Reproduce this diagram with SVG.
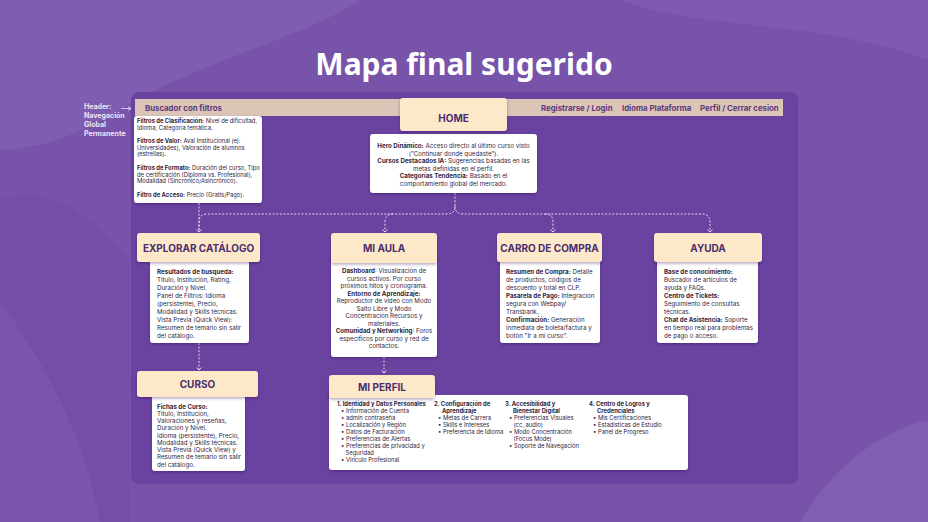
<svg xmlns="http://www.w3.org/2000/svg" width="928" height="522" viewBox="0 0 928 522">
<defs>
<style>
.t{font-family:Inter,"Noto Sans","Liberation Sans",sans-serif;fill:#2f2540;font-size:6.2px}
.s{font-size:5.85px}
.b{font-weight:700}
.c{text-anchor:middle}
.h{font-family:Inter,"Noto Sans","Liberation Sans",sans-serif;font-weight:700;font-size:10px;fill:#4b2d70;text-anchor:middle}
.nav{font-family:Inter,"Noto Sans","Liberation Sans",sans-serif;font-weight:700;font-size:7.8px;fill:#5b3a7e}
.beige{fill:#fde9c9}
.card{fill:#ffffff}
.dash{fill:none;stroke:#efe6fb;stroke-width:0.9;stroke-dasharray:2 1.6}
.ah{fill:none;stroke:#efe6fb;stroke-width:0.9}
</style>
<filter id="sh" x="-20%" y="-20%" width="140%" height="150%">
<feDropShadow dx="0" dy="1.5" stdDeviation="1.5" flood-color="#2a1050" flood-opacity="0.35"/>
</filter>
</defs>
<!-- background -->
<rect width="928" height="522" fill="#7853aa"/>
<path d="M0,0 H360 C300,40 200,60 120,110 C70,140 30,150 0,150 Z" fill="#8262b4" opacity="0.7"/>
<path d="M0,300 C40,360 80,420 100,522 H0 Z" fill="#8565b6" opacity="0.6"/>
<path d="M620,0 C700,30 820,20 928,60 V0 Z" fill="#8464b6" opacity="0.5"/>
<path d="M800,522 C830,470 880,430 928,420 V522 Z" fill="#8565b6" opacity="0.6"/>
<path d="M0,200 C60,180 100,230 130,260 V522 H0 Z" fill="#7046a6" opacity="0.35"/>
<text x="464" y="75" text-anchor="middle" font-family="'Noto Sans','Open Sans',sans-serif" font-weight="700" font-size="30" fill="#ffffff">Mapa final sugerido</text>
<rect x="131" y="92" width="667" height="392" rx="8" fill="#6a43a0"/>

<!-- header -->
<g id="header">
<rect x="135" y="99" width="648" height="17" fill="#dcc4b6"/>
<text class="nav" x="145" y="111">Buscador con filtros</text>
<text class="nav" x="541" y="111">Registrarse  / Login</text>
<text class="nav" x="622" y="111">Idioma Plataforma</text>
<text class="nav" x="700" y="111">Perfil / Cerrar cesion</text>
</g>
<g id="header-label">
<text font-family="Inter,'Noto Sans',sans-serif" font-weight="700" font-size="7" fill="#ece3f7">
<tspan x="84" y="109">Header:</tspan><tspan x="84" y="118">Navegación</tspan><tspan x="84" y="127">Global</tspan><tspan x="84" y="136">Permanente</tspan></text>
<line x1="121" y1="108.5" x2="131" y2="108.5" stroke="#ece3f7" stroke-width="0.8"/>
<polyline points="128,106.5 131,108.5 128,110.5" fill="none" stroke="#ece3f7" stroke-width="0.8"/>
</g>

<g id="filtros">
<rect x="134" y="116" width="128" height="87" rx="3" class="card" filter="url(#sh)"/>
<text class="t s"><tspan x="137" y="123"><tspan class="b">Filtros de Clasificación:</tspan> Nivel de dificultad,</tspan><tspan x="137" y="129.5">Idioma, Categoría temática.</tspan>
<tspan x="137" y="143"><tspan class="b">Filtros de Valor:</tspan> Aval Institucional (ej:</tspan><tspan x="137" y="149.5">Universidades), Valoración de alumnos</tspan><tspan x="137" y="156">(estrellas).</tspan>
<tspan x="137" y="170"><tspan class="b">Filtros de Formato:</tspan> Duración del curso, Tipo</tspan><tspan x="137" y="176.5">de certificación (Diploma vs. Profesional),</tspan><tspan x="137" y="183">Modalidad (Sincrónico/Asincrónico).</tspan>
<tspan x="137" y="196.5"><tspan class="b">Filtro de Acceso:</tspan> Precio (Gratis/Pago).</tspan></text>
</g>

<!-- connectors -->
<g id="connectors">
<path class="dash" d="M455,193 V206 Q455,214 447,214 H207 Q199,214 199,222 V232"/>
<path class="dash" d="M455,206 Q455,214 463,214 H702 Q710,214 710,222 V232"/>
<path class="dash" d="M393,214 Q385,214 385,222 V232"/>
<path class="dash" d="M545,214 Q553,214 553,222 V232"/>
<path class="dash" d="M199,203 V232"/>
<path class="dash" d="M199,343 V370"/>
<path class="dash" d="M384,357 V373"/>
<polyline class="ah" points="196.5,229.5 199,232 201.5,229.5"/>
<polyline class="ah" points="382.5,229.5 385,232 387.5,229.5"/>
<polyline class="ah" points="550.5,229.5 553,232 555.5,229.5"/>
<polyline class="ah" points="707.5,229.5 710,232 712.5,229.5"/>
<polyline class="ah" points="196.5,367.5 199,370 201.5,367.5"/>
<polyline class="ah" points="381.5,370.5 384,373 386.5,370.5"/>
</g>

<g id="home">
<rect x="370" y="134" width="167" height="59" rx="3" class="card" filter="url(#sh)"/>
<rect x="400" y="98" width="107" height="33" rx="3" class="beige" filter="url(#sh)"/>
<text class="h" x="453.5" y="122">HOME</text>
<text class="t c"><tspan x="453.5" y="148"><tspan class="b">Hero Dinámico:</tspan> Acceso directo al último curso visto</tspan><tspan x="453.5" y="155.5">("Continuar donde quedaste").</tspan><tspan x="453.5" y="163"><tspan class="b">Cursos Destacados IA:</tspan> Sugerencias basadas en las</tspan><tspan x="453.5" y="170.5">metas definidas en el perfil.</tspan><tspan x="453.5" y="178"><tspan class="b">Categorías Tendencia:</tspan> Basado en el</tspan><tspan x="453.5" y="185.5">comportamiento global del mercado.</tspan></text>
</g>

<g id="explorar">
<rect x="150" y="258" width="99" height="85" rx="3" class="card" filter="url(#sh)"/>
<rect x="137" y="233" width="123" height="29" rx="3" class="beige" filter="url(#sh)"/>
<text class="h" x="198.5" y="252">EXPLORAR CATÁLOGO</text>
<text class="t"><tspan x="157" y="274" class="b">Resultados de busqueda:</tspan><tspan x="157" y="282">Título, Institución, Rating,</tspan><tspan x="157" y="290">Duración y Nivel.</tspan><tspan x="157" y="298">Panel de Filtros: Idioma</tspan><tspan x="157" y="306">(persistente), Precio,</tspan><tspan x="157" y="313.5">Modalidad y Skills técnicas.</tspan><tspan x="157" y="321.5">Vista Previa (Quick View):</tspan><tspan x="157" y="329.5">Resumen de temario sin salir</tspan><tspan x="157" y="337.5">del catálogo.</tspan></text>
</g>

<g id="mi-aula">
<rect x="331" y="258" width="106" height="99" rx="3" class="card" filter="url(#sh)"/>
<rect x="331" y="233" width="106" height="30" rx="3" class="beige" filter="url(#sh)"/>
<text class="h" x="384" y="252">MI AULA</text>
<text class="t c"><tspan x="384" y="273"><tspan class="b">Dashboard</tspan>: Visualización de</tspan><tspan x="384" y="280.5">cursos activos. Por curso</tspan><tspan x="384" y="288">próximos hitos y cronograma.</tspan><tspan x="384" y="295.5" class="b">Entorno de Aprendizaje:</tspan><tspan x="384" y="303">Reproductor de video con Modo</tspan><tspan x="384" y="310.5">Salto Libre y Modo</tspan><tspan x="384" y="318">Concentración Recursos y</tspan><tspan x="384" y="325.5">materiales.</tspan><tspan x="384" y="333"><tspan class="b">Comunidad y Networking</tspan>: Foros</tspan><tspan x="384" y="340.5">específicos por curso y red de</tspan><tspan x="384" y="348">contactos.</tspan></text>
</g>

<g id="carro">
<rect x="500" y="258" width="100" height="85" rx="3" class="card" filter="url(#sh)"/>
<rect x="497" y="233" width="105" height="29" rx="3" class="beige" filter="url(#sh)"/>
<text class="h" x="549.5" y="252">CARRO DE COMPRA</text>
<text class="t"><tspan x="506" y="274"><tspan class="b">Resumen de Compra:</tspan> Detalle</tspan><tspan x="506" y="282">de productos, códigos de</tspan><tspan x="506" y="290">descuento y total en CLP.</tspan><tspan x="506" y="298"><tspan class="b">Pasarela de Pago:</tspan> Integración</tspan><tspan x="506" y="305.5">segura con Webpay/</tspan><tspan x="506" y="313.5">Transbank.</tspan><tspan x="506" y="321.5"><tspan class="b">Confirmación:</tspan> Generación</tspan><tspan x="506" y="329.5">inmediata de boleta/factura y</tspan><tspan x="506" y="337.5">botón "Ir a mi curso".</tspan></text>
</g>

<g id="ayuda">
<rect x="657" y="258" width="101" height="85" rx="3" class="card" filter="url(#sh)"/>
<rect x="654" y="233" width="108" height="29" rx="3" class="beige" filter="url(#sh)"/>
<text class="h" x="708" y="252">AYUDA</text>
<text class="t"><tspan x="664" y="274" class="b">Base de conocimiento:</tspan><tspan x="664" y="282">Buscador de artículos de</tspan><tspan x="664" y="290">ayuda y FAQs.</tspan><tspan x="664" y="298" class="b">Centro de Tickets:</tspan><tspan x="664" y="305.5">Seguimiento de consultas</tspan><tspan x="664" y="313.5">técnicas.</tspan><tspan x="664" y="321.5"><tspan class="b">Chat de Asistencia:</tspan> Soporte</tspan><tspan x="664" y="329.5">en tiempo real para problemas</tspan><tspan x="664" y="337.5">de pago o acceso.</tspan></text>
</g>

<g id="curso">
<rect x="152" y="395" width="93" height="76" rx="3" class="card" filter="url(#sh)"/>
<rect x="137" y="371" width="121" height="26" rx="3" class="beige" filter="url(#sh)"/>
<text class="h" x="197.5" y="388">CURSO</text>
<text class="t"><tspan x="157" y="408.5" class="b">Fichas de Curso:</tspan><tspan x="157" y="415.5">Título, Institución,</tspan><tspan x="157" y="423">Valoraciones y reseñas,</tspan><tspan x="157" y="430">Duración y Nivel.</tspan><tspan x="157" y="437.5">Idioma (persistente), Precio,</tspan><tspan x="157" y="444.5">Modalidad y Skills técnicas.</tspan><tspan x="157" y="452">Vista Previa (Quick View) y</tspan><tspan x="157" y="459">Resumen de temario sin salir</tspan><tspan x="157" y="466.5">del catálogo.</tspan></text>
</g>

<g id="mi-perfil">
<rect x="329" y="395" width="359" height="75" rx="3" class="card" filter="url(#sh)"/>
<rect x="329" y="375" width="106" height="23" rx="3" class="beige" filter="url(#sh)"/>
<text class="h" x="382" y="391">MI PERFIL</text>
<text class="t s">
<tspan x="337" y="406" class="b">1.  Identidad y Datos Personales</tspan>
<tspan x="341" y="413">•  Información de Cuenta</tspan>
<tspan x="341" y="420">•  admin contraseña</tspan>
<tspan x="341" y="427">•  Localización y Región</tspan>
<tspan x="341" y="434">•  Datos de Facturación</tspan>
<tspan x="341" y="441">•  Preferencias de Alertas</tspan>
<tspan x="341" y="448">•  Preferencias de privacidad y</tspan>
<tspan x="345.5" y="455">Seguridad</tspan>
<tspan x="341" y="462">•  Vínculo Profesional</tspan>
</text>
<text class="t s">
<tspan x="434" y="406" class="b">2.  Configuración de</tspan>
<tspan x="442" y="413" class="b">Aprendizaje</tspan>
<tspan x="438" y="420">•  Metas de Carrera</tspan>
<tspan x="438" y="427">•  Skills e Intereses</tspan>
<tspan x="438" y="434">•  Preferencia de Idioma</tspan>
</text>
<text class="t s">
<tspan x="505" y="406" class="b">3.  Accesibilidad y</tspan>
<tspan x="513" y="413" class="b">Bienestar Digital</tspan>
<tspan x="509" y="420">•  Preferencias Visuales</tspan>
<tspan x="513.5" y="427">(cc, audio)</tspan>
<tspan x="509" y="434">•  Modo Concentración</tspan>
<tspan x="513.5" y="441">(Focus Mode)</tspan>
<tspan x="509" y="448">•  Soporte de Navegación</tspan>
</text>
<text class="t s">
<tspan x="589" y="406" class="b">4.  Centro de Logros y</tspan>
<tspan x="597" y="413" class="b">Credenciales</tspan>
<tspan x="593" y="420">•  Mis Certificaciones</tspan>
<tspan x="593" y="427">•  Estadísticas de Estudio</tspan>
<tspan x="593" y="434">•  Panel de Progreso</tspan>
</text>
</g>
</svg>
